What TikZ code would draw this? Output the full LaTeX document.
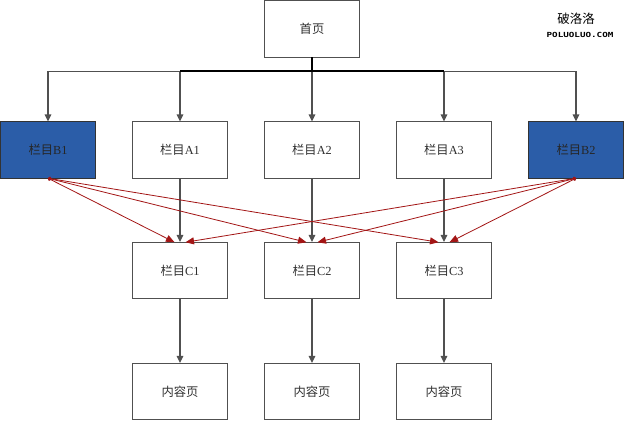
\documentclass[tikz,border=0pt]{standalone}
\usepackage{fontspec}
\setmainfont{Liberation Serif}
\newfontfamily\cjk{Noto Sans CJK SC}
\newfontfamily\wmfont{DejaVu Sans Mono}
\usetikzlibrary{arrows.meta,calc}
\definecolor{boxline}{HTML}{505050}
\definecolor{bluefill}{HTML}{2B5DA8}
\definecolor{redline}{HTML}{A31515}
\definecolor{txt}{HTML}{303030}
\tikzset{
  pagebox/.style={draw=boxline, line width=1.2bp, fill=white, minimum width=95bp, minimum height=56.5bp,
    inner sep=0pt, outer sep=0pt, text=txt, font=\fontsize{12.3bp}{14bp}\selectfont},
  bluebox/.style={pagebox, fill=bluefill, draw=black!80, text=black!85},
  conn/.style={draw=boxline, line width=1.2bp, -{Triangle[length=7bp,width=6.5bp]}, shorten >=0.3bp},
  redconn/.style={draw=redline, line width=0.8bp, {Circle[length=3.5bp]}-{Triangle[length=8.5bp,width=7bp]}},
}
\begin{document}
\begin{tikzpicture}[x=1bp,y=-1bp]
\useasboundingbox (0,0) rectangle (624,421);
\fill[white] (0,0) rectangle (624,421);
% nodes
\node[pagebox] (home) at (312,29) {\cjk 首页};
\node[bluebox] (b1) at (48,150) {{\cjk 栏目}B1};
\node[pagebox] (a1) at (180,150) {{\cjk 栏目}A1};
\node[pagebox] (a2) at (312,150) {{\cjk 栏目}A2};
\node[pagebox] (a3) at (444,150) {{\cjk 栏目}A3};
\node[bluebox] (b2) at (576,150) {{\cjk 栏目}B2};
\node[pagebox] (c1) at (180,270.5) {{\cjk 栏目}C1};
\node[pagebox] (c2) at (312,270.5) {{\cjk 栏目}C2};
\node[pagebox] (c3) at (444,270.5) {{\cjk 栏目}C3};
\node[pagebox] (p1) at (180,391.5) {\cjk 内容页};
\node[pagebox] (p2) at (312,391.5) {\cjk 内容页};
\node[pagebox] (p3) at (444,391.5) {\cjk 内容页};
% watermark
\node[font=\cjk\fontsize{12.5bp}{15bp}\selectfont, inner sep=0pt] (wm1) at (576,18.5) {破洛洛};
\node[font=\wmfont\bfseries\fontsize{7bp}{8bp}\selectfont, inner sep=0pt, xscale=1.32] (wm2) at (580,34.5) {POLUOLUO.COM};
% bus
\coordinate (bus) at ($(home.south)+(0,14)$);
\draw[black, line width=2.4bp] (home.south) -- (bus);
\foreach \t in {b1,a1,a2,a3,b2}{
  \draw[conn] (bus) -| (\t.north);
}
\draw[black, line width=1.6bp] (a1.north |- bus) -- (a3.north |- bus);
% A -> C, C -> content
\draw[conn] (a1) -- (c1);
\draw[conn] (a2) -- (c2);
\draw[conn] (a3) -- (c3);
\draw[conn] (c1) -- (p1);
\draw[conn] (c2) -- (p2);
\draw[conn] (c3) -- (p3);
% red links
\foreach \c in {c1,c2,c3}{
  \draw[redconn] (b1.south) -- ($(\c.north)+(-5.5,0)$);
  \draw[redconn] (b2.south) -- ($(\c.north)+(5.5,0)$);
}
\end{tikzpicture}
\end{document}
